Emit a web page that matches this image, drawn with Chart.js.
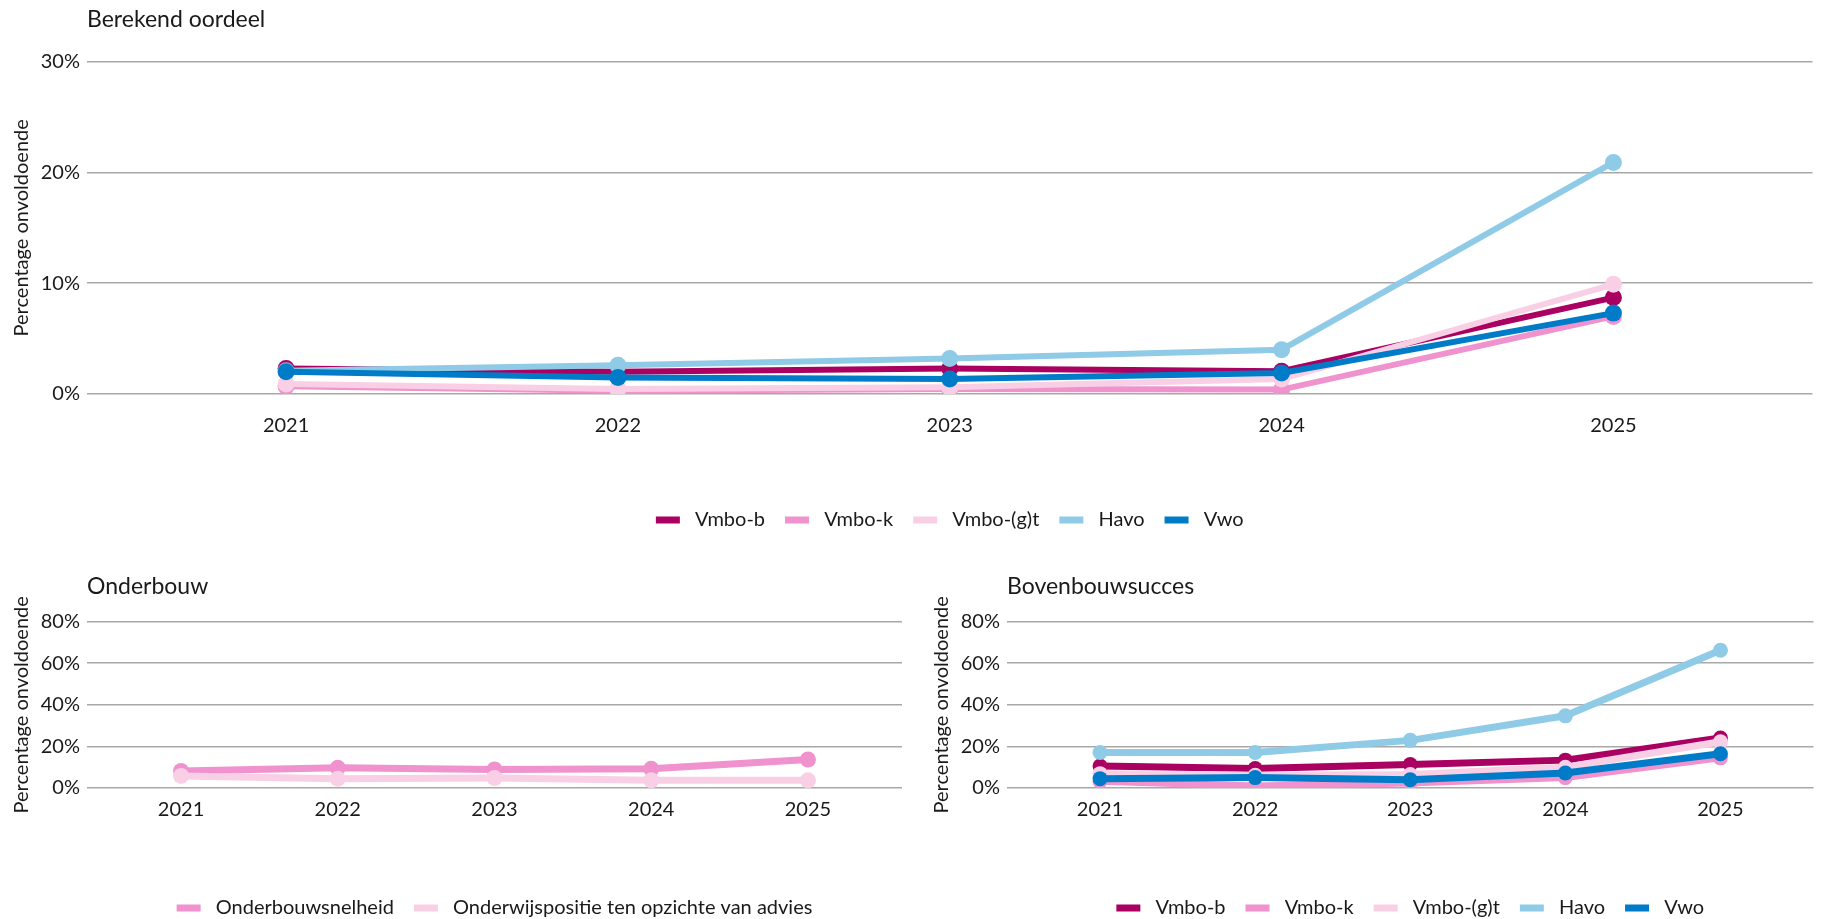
<!DOCTYPE html>
<html>
<head>
<meta charset="utf-8">
<script src="https://cdn.jsdelivr.net/npm/chart.js@4.4.1/dist/chart.umd.min.js"></script>
<style>
  html, body { margin: 0; padding: 0; background: #fff; overflow: hidden; }
  body { width: 1821px; height: 919px; position: relative; }
  .box { position: absolute; }
  #c1 { left: 0; top: 0; width: 1821px; height: 540px; }
  #c2 { left: 0; top: 540px; width: 910px; height: 388px; }
  #c3 { left: 920px; top: 540px; width: 901px; height: 388px; }
</style>
</head>
<body>
<div class="box" id="c1"><canvas id="chart1"></canvas></div>
<div class="box" id="c2"><canvas id="chart2"></canvas></div>
<div class="box" id="c3"><canvas id="chart3"></canvas></div>
<script>
// ---- data ----
const years = [2021, 2022, 2023, 2024, 2025];
const schoolTypes = ['Vmbo-b', 'Vmbo-k', 'Vmbo-(g)t', 'Havo', 'Vwo'];
const onderbouwLabels = ['Onderbouwsnelheid', 'Onderwijspositie ten opzichte van advies'];

const titleTop = 'Berekend oordeel';
const titleLeft = 'Onderbouw';
const titleRight = 'Bovenbouwsucces';
const yAxisTitle = 'Percentage onvoldoende';

const yTicksTop = [0, 10, 20, 30];
const yTicksBottom = [0, 20, 40, 60, 80];

// Berekend oordeel (%)
const berekendVmboB  = [2.3, 2.0, 2.3, 2.05, 8.7];
const berekendVmboK  = [0.7, 0.3, 0.45, 0.4, 7.0];
const berekendVmboGT = [0.9, 0.45, 0.6, 1.35, 9.9];
const berekendHavo   = [2.1, 2.6, 3.2, 4.0, 20.9];
const berekendVwo    = [2.0, 1.5, 1.35, 1.9, 7.3];

// Onderbouw (%)
const onderbouwSnelheid = [8.2, 9.7, 8.9, 9.2, 13.7];
const onderwijspositie  = [5.8, 4.5, 4.8, 3.7, 3.7];

// Bovenbouwsucces (%)
const bovenVmboB  = [10.6, 9.4, 11.3, 13.4, 24.0];
const bovenVmboK  = [3.2, 1.0, 2.4, 5.0, 14.5];
const bovenVmboGT = [6.9, 6.1, 6.5, 10.0, 22.2];
const bovenHavo   = [17.1, 17.1, 22.9, 34.7, 66.2];
const bovenVwo    = [4.5, 5.0, 4.0, 7.2, 16.5];

// ---- styling ----
const colors = ['#a90061', '#f092cd', '#f9cfe6', '#8fcae7', '#007bc7'];
const FONT = 'Lato, "Open Sans", "Noto Sans", sans-serif';
const TEXT = '#1a1a1a';
const GRID = '#a8a8a8';

function makeDatasets(names, seriesList, cols, lw, pr) {
  return names.map((n, i) => ({
    label: n,
    data: years.map((y, j) => ({ x: y, y: seriesList[i][j] })),
    borderColor: cols[i],
    backgroundColor: cols[i],
    pointBackgroundColor: cols[i],
    pointBorderWidth: 0,
    pointRadius: pr,
    pointHoverRadius: pr,
    borderWidth: lw,
    tension: 0,
    order: -i
  }));
}

function makeChart(id, cfg) {
  return new Chart(document.getElementById(id), {
    type: 'line',
    data: { datasets: cfg.datasets },
    options: {
      responsive: true,
      maintainAspectRatio: false,
      animation: false,
      events: [],
      layout: { padding: { left: 0, right: cfg.padRight, top: 0, bottom: cfg.padBottom } },
      plugins: {
        tooltip: { enabled: false },
        title: {
          display: true,
          text: cfg.title,
          align: 'start',
          fullSize: false,
          color: TEXT,
          font: { family: FONT, size: 23, weight: 'normal', lineHeight: 1.2 },
          padding: { top: cfg.titlePadTop, bottom: cfg.titlePadBottom }
        },
        legend: {
          display: true,
          position: 'bottom',
          fullSize: false,
          labels: {
            color: TEXT,
            font: { family: FONT, size: 20 },
            boxWidth: 24,
            boxHeight: 7,
            padding: 20,
            generateLabels: (chart) => Chart.defaults.plugins.legend.labels.generateLabels(chart)
              .map(l => Object.assign(l, { lineWidth: 0, text: ' ' + l.text }))
              .sort((a, b) => a.datasetIndex - b.datasetIndex)
          }
        }
      },
      scales: {
        x: {
          type: 'linear',
          min: 2020.4,
          max: 2025.6,
          afterBuildTicks: (s) => { s.ticks = years.map(v => ({ value: v })); },
          afterFit: (s) => { s.height = cfg.xAxisHeight; },
          grid: { display: false, drawTicks: false },
          border: { display: false },
          ticks: {
            color: TEXT,
            font: { family: FONT, size: 20 },
            padding: cfg.xTickPad,
            maxRotation: 0,
            autoSkip: false,
            callback: (v) => String(v)
          }
        },
        y: {
          type: 'linear',
          min: 0,
          max: cfg.yTicks[cfg.yTicks.length - 1],
          afterBuildTicks: (s) => { s.ticks = cfg.yTicks.map(v => ({ value: v })); },
          afterFit: (s) => { s.width = 87; },
          grid: { color: GRID, lineWidth: 1.5, drawTicks: false },
          border: { display: false },
          ticks: {
            color: TEXT,
            font: { family: FONT, size: 20 },
            padding: 7,
            callback: (v) => v + '%'
          },
          title: {
            display: true,
            text: yAxisTitle,
            color: TEXT,
            font: { family: FONT, size: 20 },
            padding: { top: 10, bottom: 0 }
          }
        }
      }
    }
  });
}

makeChart('chart1', {
  title: titleTop,
  datasets: makeDatasets(schoolTypes,
    [berekendVmboB, berekendVmboK, berekendVmboGT, berekendHavo, berekendVwo], colors, 6, 8.5),
  yTicks: yTicksTop,
  padRight: 0,
  padBottom: 0,
  titlePadTop: 6,
  titlePadBottom: 28,
  xAxisHeight: 96,
  xTickPad: 20
});

makeChart('chart2', {
  title: titleLeft,
  datasets: makeDatasets(onderbouwLabels,
    [onderbouwSnelheid, onderwijspositie], [colors[1], colors[2]], 7, 8),
  yTicks: yTicksBottom,
  padRight: 5,
  padBottom: 0,
  titlePadTop: 33,
  titlePadBottom: 21,
  xAxisHeight: 90,
  xTickPad: 10
});

makeChart('chart3', {
  title: titleRight,
  datasets: makeDatasets(schoolTypes,
    [bovenVmboB, bovenVmboK, bovenVmboGT, bovenHavo, bovenVwo], colors, 7, 7.5),
  yTicks: yTicksBottom,
  padRight: 0,
  padBottom: 0,
  titlePadTop: 33,
  titlePadBottom: 21,
  xAxisHeight: 90,
  xTickPad: 10
});
</script>
</body>
</html>
